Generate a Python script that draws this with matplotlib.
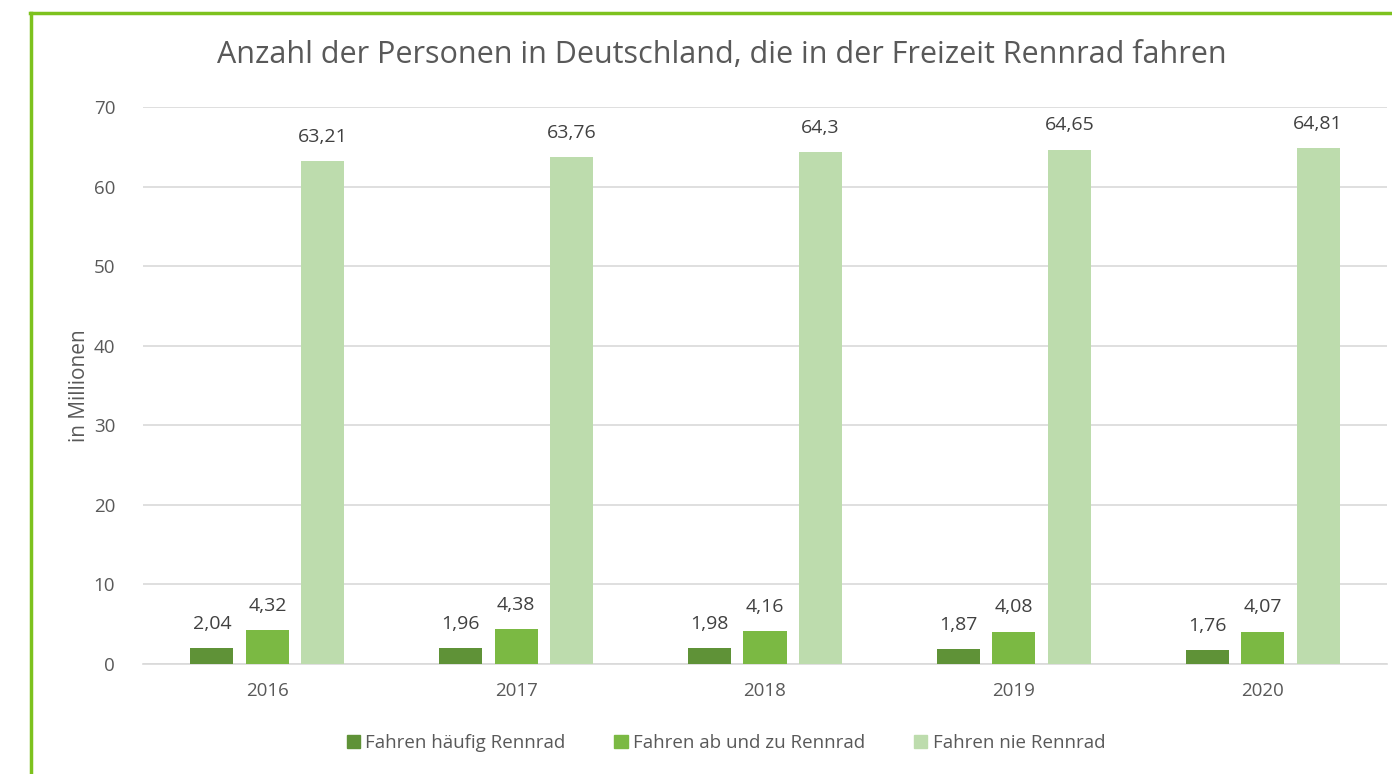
import matplotlib.pyplot as plt
import numpy as np
from matplotlib.patches import Patch
from matplotlib.lines import Line2D

jahre = ["2016", "2017", "2018", "2019", "2020"]
haeufig = [2.04, 1.96, 1.98, 1.87, 1.76]
ab_und_zu = [4.32, 4.38, 4.16, 4.08, 4.07]
nie = [63.21, 63.76, 64.3, 64.65, 64.81]
serien = ["Fahren häufig Rennrad", "Fahren ab und zu Rennrad", "Fahren nie Rennrad"]
farben = ["#5F9237", "#7BB943", "#BDDCAD"]

plt.rcParams['font.family'] = ['Open Sans', 'DejaVu Sans']
txt = "#404040"

fig = plt.figure(figsize=(13.92, 7.74), dpi=100)
ax = fig.add_axes([143 / 1392, 1 - 664 / 774, (1387 - 143) / 1392, (664 - 107) / 774])

x = np.arange(len(jahre))
breite = 0.173
versatz = 0.223
for i, (werte, name, farbe) in enumerate(zip([haeufig, ab_und_zu, nie], serien, farben)):
    bars = ax.bar(x + (i - 1) * versatz, werte, breite, color=farbe, label=name, zorder=3)
    for b, v in zip(bars, werte):
        ax.text(b.get_x() + b.get_width() / 2, v + 1.9, f"{v:g}".replace(".", ","),
                ha="center", va="bottom", fontsize=14, color=txt)

ax.set_xlim(-0.5, 4.5)
ax.set_ylim(0, 70)
ax.set_yticks(range(0, 71, 10))
ax.set_xticks(x)
ax.set_xticklabels(jahre)
ax.tick_params(length=0, labelsize=13.5, colors="#595959")
ax.tick_params(axis="x", pad=13)
ax.tick_params(axis="y", pad=20)
ax.grid(axis="y", color="#D9D9D9", linewidth=1.2, zorder=0)
for s in ["top", "right", "left"]:
    ax.spines[s].set_visible(False)
ax.spines["bottom"].set_color("#D9D9D9")
ax.spines["bottom"].set_linewidth(1.2)
ax.set_ylabel("in Millionen", fontsize=15, color="#595959", labelpad=3)

fig.text(722 / 1392, 1 - 55 / 774, "Anzahl der Personen in Deutschland, die in der Freizeit Rennrad fahren",
         ha="center", va="center", fontsize=22, color="#595959")

handles = [Patch(color=f) for f in farben]
fig.legend(handles, serien, loc="center", bbox_to_anchor=(726 / 1392, 1 - 743 / 774), ncol=3,
           frameon=False, fontsize=13.5, handlelength=0.7, handleheight=0.7, handletextpad=0.3,
           columnspacing=2.6, labelcolor="#595959")

# green frame (left and top visible)
rand = "#7DC21E"
fig.add_artist(Line2D([31 / 1392, 31 / 1392], [0, 1 - 13 / 774], transform=fig.transFigure, color=rand, linewidth=2.5))
fig.add_artist(Line2D([30 / 1392, 1], [1 - 13 / 774, 1 - 13 / 774], transform=fig.transFigure, color=rand, linewidth=2.5))

fig.savefig("out.png", dpi=100)
